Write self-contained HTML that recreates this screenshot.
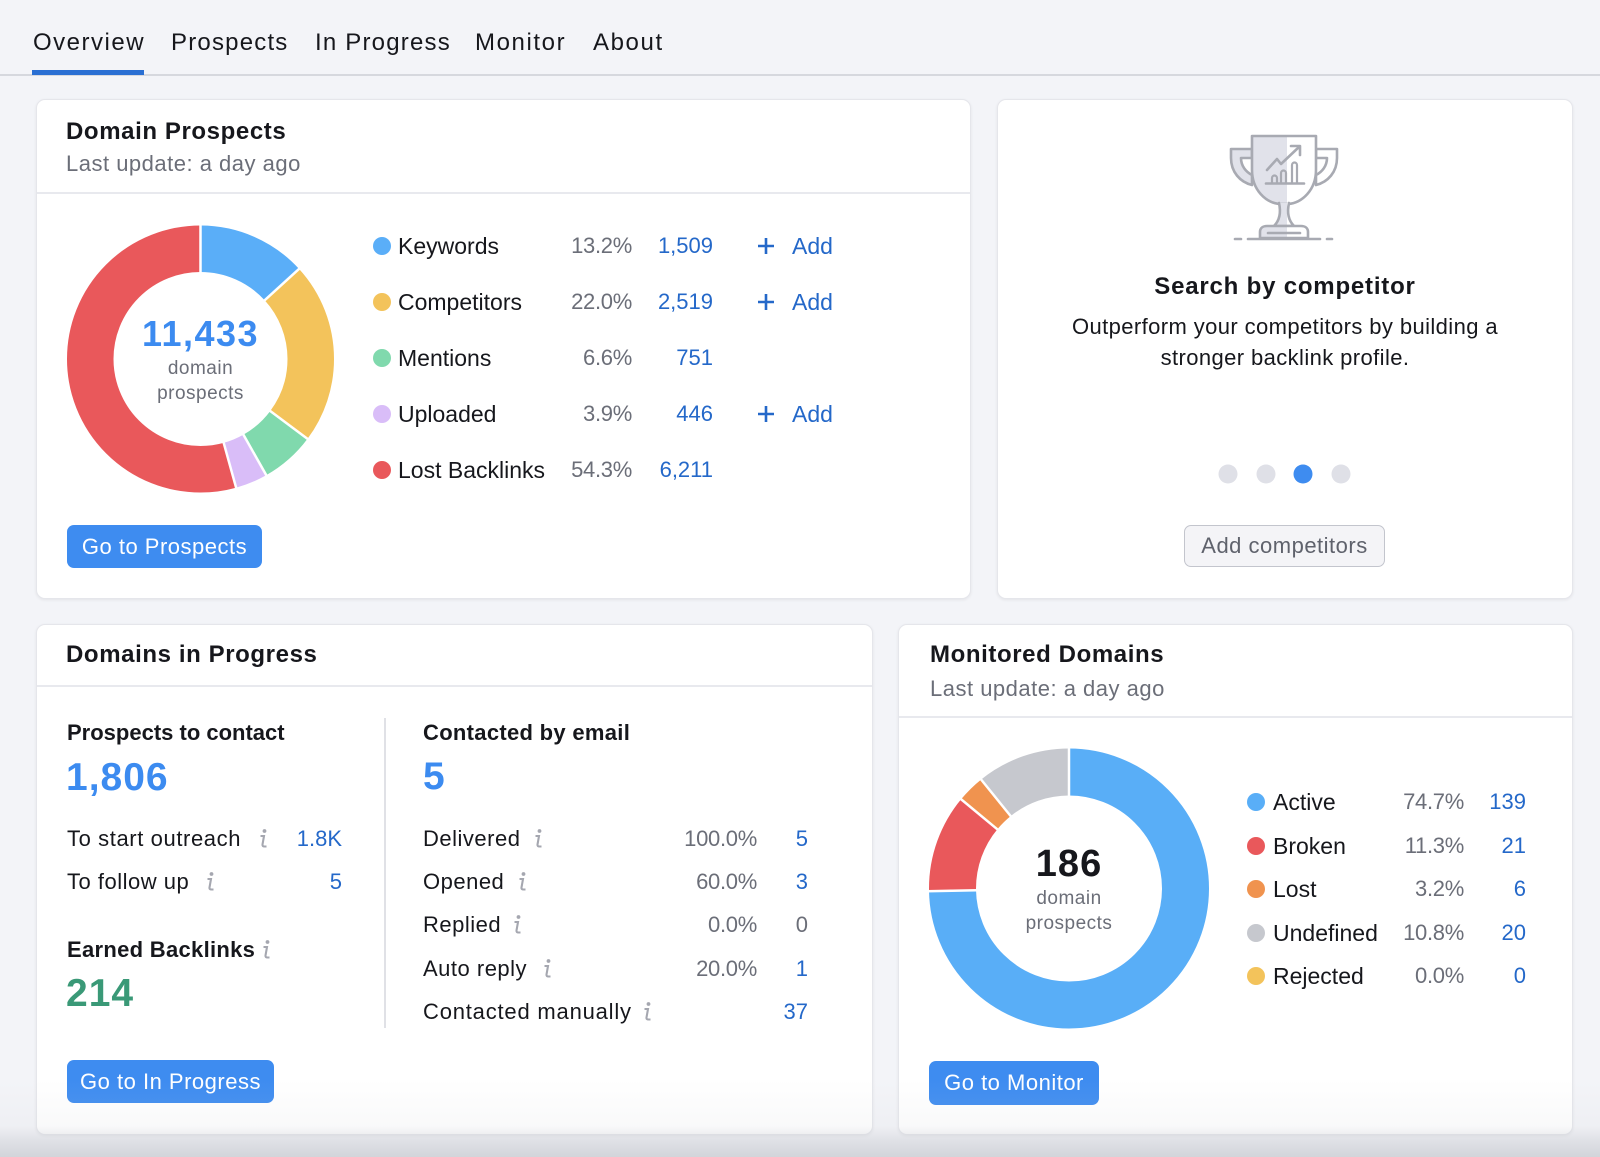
<!DOCTYPE html>
<html>
<head>
<meta charset="utf-8">
<style>
  html,body{margin:0;padding:0;}
  body{width:1600px;height:1157px;overflow:hidden;background:#f3f4f8;position:relative;font-family:"Liberation Sans",Arial,sans-serif;color:#16171c;}
  .t{position:absolute;line-height:1;white-space:nowrap;z-index:3;}
  .card{position:absolute;background:#fff;border:1px solid #e5e6eb;border-radius:9px;box-shadow:0 1px 3px rgba(0,0,0,0.07);box-sizing:border-box;z-index:1;}
  .sep{position:absolute;height:2px;background:#e8e9ee;z-index:2;}
  .title{font-size:24px;font-weight:bold;letter-spacing:0.6px;}
  .sub{font-size:22px;color:#6b6e78;letter-spacing:0.5px;}
  .lab{font-size:23px;color:#16171c;}
  .pct{font-size:22px;color:#6b6e78;letter-spacing:-0.3px;text-align:right;}
  .num{font-size:22px;color:#2468c9;text-align:right;}
  .row{font-size:22px;color:#16171c;letter-spacing:0.5px;}
  .big{font-size:39px;font-weight:bold;letter-spacing:1px;}
  .btn{position:absolute;background:#3e8cf0;color:#fff;border-radius:7px;font-size:22px;letter-spacing:0.5px;display:flex;align-items:center;justify-content:center;z-index:3;box-sizing:border-box;}
  .dot{position:absolute;width:18px;height:18px;border-radius:50%;z-index:3;}
  .tab{font-size:24px;letter-spacing:1.2px;color:#16171c;}
</style>
</head>
<body>

<!-- Tabs -->
<div class="t tab" style="left:33px;top:31px;letter-spacing:1.5px;">Overview</div>
<div class="t tab" style="left:171px;top:31px;">Prospects</div>
<div class="t tab" style="left:315px;top:31px;">In Progress</div>
<div class="t tab" style="left:475px;top:31px;letter-spacing:1.6px;">Monitor</div>
<div class="t tab" style="left:593px;top:31px;letter-spacing:1.6px;">About</div>
<div style="position:absolute;left:0;top:74px;width:1600px;height:2px;background:#d6d8de;"></div>
<div style="position:absolute;left:32px;top:70px;width:112px;height:5px;background:#2a6fd3;"></div>

<!-- Cards -->
<div class="card" style="left:36px;top:99px;width:935px;height:500px;"></div>
<div class="card" style="left:997px;top:99px;width:576px;height:500px;"></div>
<div class="card" style="left:36px;top:624px;width:837px;height:511px;"></div>
<div class="card" style="left:898px;top:624px;width:675px;height:511px;"></div>

<!-- separators -->
<div class="sep" style="left:37px;top:192px;width:933px;"></div>
<div class="sep" style="left:37px;top:685px;width:835px;"></div>
<div class="sep" style="left:899px;top:716px;width:673px;"></div>
<div style="position:absolute;left:384px;top:718px;width:2px;height:310px;background:#e0e1e6;z-index:2;"></div>

<!-- Graphics overlay -->
<svg width="1600" height="1157" style="position:absolute;left:0;top:0;z-index:2;" xmlns="http://www.w3.org/2000/svg">
  <defs>
    <linearGradient id="tg" gradientUnits="userSpaceOnUse" x1="1231" y1="0" x2="1337" y2="0">
      <stop offset="0" stop-color="#e1e2ea"/>
      <stop offset="0.53" stop-color="#e1e2ea"/>
      <stop offset="0.53" stop-color="#ffffff"/>
      <stop offset="1" stop-color="#ffffff"/>
    </linearGradient>
  </defs>
  <!-- Donut 1 -->
  <g transform="rotate(-90 200.5 359)" fill="none" stroke-width="46.5">
    <circle cx="200.5" cy="359" r="110.25" stroke="#5aaef8" stroke-dasharray="91.44 692.72" stroke-dashoffset="0"/>
    <circle cx="200.5" cy="359" r="110.25" stroke="#f3c35b" stroke-dasharray="152.40 692.72" stroke-dashoffset="-91.44"/>
    <circle cx="200.5" cy="359" r="110.25" stroke="#80d9ad" stroke-dasharray="45.72 692.72" stroke-dashoffset="-243.84"/>
    <circle cx="200.5" cy="359" r="110.25" stroke="#d9bdf8" stroke-dasharray="27.02 692.72" stroke-dashoffset="-289.56"/>
    <circle cx="200.5" cy="359" r="110.25" stroke="#e9585b" stroke-dasharray="376.15 692.72" stroke-dashoffset="-316.58"/>
  </g>
  <g stroke="#ffffff" stroke-width="2.5">
    <line x1="200.5" y1="273" x2="200.5" y2="224"/>
    <line x1="263.95" y1="300.95" x2="300.1" y2="267.9"/>
    <line x1="269.4" y1="410.4" x2="308.7" y2="439.8"/>
    <line x1="242.9" y1="433.8" x2="267.0" y2="476.5"/>
    <line x1="223.45" y1="441.9" x2="236.5" y2="489.1"/>
  </g>

  <!-- Donut 2 -->
  <g transform="rotate(-90 1069 888.5)" fill="none" stroke-width="47">
    <circle cx="1069" cy="888.5" r="116.5" stroke="#59aef7" stroke-dasharray="546.80 731.99" stroke-dashoffset="0"/>
    <circle cx="1069" cy="888.5" r="116.5" stroke="#e9585b" stroke-dasharray="82.71 731.99" stroke-dashoffset="-546.80"/>
    <circle cx="1069" cy="888.5" r="116.5" stroke="#f0934f" stroke-dasharray="23.42 731.99" stroke-dashoffset="-629.51"/>
    <circle cx="1069" cy="888.5" r="116.5" stroke="#c6c8ce" stroke-dasharray="79.05 731.99" stroke-dashoffset="-652.93"/>
  </g>
  <g stroke="#ffffff" stroke-width="2.5">
    <line x1="1069" y1="796.5" x2="1069" y2="746.5"/>
    <line x1="977.0" y1="890.2" x2="927.0" y2="891.2"/>
    <line x1="998.1" y1="829.9" x2="959.6" y2="798.0"/>
    <line x1="1011.3" y1="816.9" x2="979.9" y2="778.0"/>
  </g>

  <!-- Trophy -->
  <g stroke="#a8aab2" stroke-width="2.6" stroke-linejoin="round" stroke-linecap="round">
    <path d="M1252,149 H1231 V158 C1231,172 1240,182 1252,185 V175 C1246,172 1241,166 1241,158 H1252 Z" fill="#e1e2ea"/>
    <path d="M1316,149 H1337 V158 C1337,172 1328,182 1316,185 V175 C1322,172 1327,166 1327,158 H1316 Z" fill="#ffffff"/>
    <path d="M1252,136 H1316 V170 C1316,190 1302,203 1288,204 L1280,204 C1266,203 1252,190 1252,170 Z" fill="url(#tg)"/>
    <path d="M1279,203 C1281,212 1280,220 1274,226 H1294 C1288,220 1287,212 1289,203" fill="url(#tg)"/>
    <path d="M1260,238 V232 C1260,228 1263,226 1267,226 H1301 C1305,226 1308,228 1308,232 V238 Z" fill="url(#tg)"/>
    <path d="M1268,233 H1300" fill="none"/>
    <path d="M1248,239 H1320" fill="none"/>
    <path d="M1235,239 H1241" fill="none"/>
    <path d="M1327,239 H1332" fill="none"/>
    <path d="M1266,183.5 H1304" fill="none"/>
    <path d="M1272,183 V178 a2.5,2.5 0 0 1 5,0 V183" fill="none" stroke-width="2.2"/>
    <path d="M1281,183 V173 a2.5,2.5 0 0 1 5,0 V183" fill="none" stroke-width="2.2"/>
    <path d="M1292,183 V165 a2.5,2.5 0 0 1 5,0 V183" fill="none" stroke-width="2.2"/>
    <path d="M1267,170 L1277,159 L1281,164 L1299,147" fill="none"/>
    <path d="M1291,146 H1300 V155" fill="none"/>
  </g>

  <!-- carousel dots -->
  <circle cx="1228" cy="474" r="9.5" fill="#dfe0e7"/>
  <circle cx="1266" cy="474" r="9.5" fill="#dfe0e7"/>
  <circle cx="1303" cy="474" r="9.5" fill="#3e8cf0"/>
  <circle cx="1341" cy="474" r="9.5" fill="#dfe0e7"/>

  <!-- info icons -->
  <g fill="#a5a7b0" stroke="#a5a7b0">
    <g transform="translate(263,847)"><circle cx="1.5" cy="-16" r="1.9" stroke="none"/><path d="M-2.5,-11 H1 L-0.5,-2.5 Q-0.8,-0.5 1.5,-0.5 H3.5" fill="none" stroke-width="2.1"/></g>
    <g transform="translate(210,890)"><circle cx="1.5" cy="-16" r="1.9" stroke="none"/><path d="M-2.5,-11 H1 L-0.5,-2.5 Q-0.8,-0.5 1.5,-0.5 H3.5" fill="none" stroke-width="2.1"/></g>
    <g transform="translate(266,958)"><circle cx="1.5" cy="-16" r="1.9" stroke="none"/><path d="M-2.5,-11 H1 L-0.5,-2.5 Q-0.8,-0.5 1.5,-0.5 H3.5" fill="none" stroke-width="2.1"/></g>
    <g transform="translate(538,847)"><circle cx="1.5" cy="-16" r="1.9" stroke="none"/><path d="M-2.5,-11 H1 L-0.5,-2.5 Q-0.8,-0.5 1.5,-0.5 H3.5" fill="none" stroke-width="2.1"/></g>
    <g transform="translate(522,890)"><circle cx="1.5" cy="-16" r="1.9" stroke="none"/><path d="M-2.5,-11 H1 L-0.5,-2.5 Q-0.8,-0.5 1.5,-0.5 H3.5" fill="none" stroke-width="2.1"/></g>
    <g transform="translate(517,933)"><circle cx="1.5" cy="-16" r="1.9" stroke="none"/><path d="M-2.5,-11 H1 L-0.5,-2.5 Q-0.8,-0.5 1.5,-0.5 H3.5" fill="none" stroke-width="2.1"/></g>
    <g transform="translate(547,977)"><circle cx="1.5" cy="-16" r="1.9" stroke="none"/><path d="M-2.5,-11 H1 L-0.5,-2.5 Q-0.8,-0.5 1.5,-0.5 H3.5" fill="none" stroke-width="2.1"/></g>
    <g transform="translate(647,1020)"><circle cx="1.5" cy="-16" r="1.9" stroke="none"/><path d="M-2.5,-11 H1 L-0.5,-2.5 Q-0.8,-0.5 1.5,-0.5 H3.5" fill="none" stroke-width="2.1"/></g>
  </g>

  <!-- plus icons -->
  <g stroke="#2468c9" stroke-width="2.6">
    <path d="M758,246 H774 M766,238 V254"/>
    <path d="M758,302 H774 M766,294 V310"/>
    <path d="M758,414 H774 M766,406 V422"/>
  </g>
</svg>

<!-- Domain Prospects -->
<div class="t title" style="left:66px;top:120px;">Domain Prospects</div>
<div class="t sub" style="left:66px;top:153px;">Last update: a day ago</div>

<div class="t" style="left:100px;width:201px;text-align:center;top:316px;font-size:36px;font-weight:bold;color:#3c8bf0;letter-spacing:1.5px;">11,433</div>
<div class="t" style="left:100px;width:201px;text-align:center;top:359px;font-size:19px;color:#6b6e78;letter-spacing:0.5px;">domain</div>
<div class="t" style="left:100px;width:201px;text-align:center;top:384px;font-size:19px;color:#6b6e78;letter-spacing:0.5px;">prospects</div>

<div class="dot" style="left:373px;top:237px;background:#5aaef8;"></div>
<div class="dot" style="left:373px;top:293px;background:#f3c35b;"></div>
<div class="dot" style="left:373px;top:349px;background:#80d9ad;"></div>
<div class="dot" style="left:373px;top:405px;background:#d9bdf8;"></div>
<div class="dot" style="left:373px;top:461px;background:#e9585b;"></div>

<div class="t lab" style="left:398px;top:234.5px;">Keywords</div>
<div class="t lab" style="left:398px;top:290.5px;">Competitors</div>
<div class="t lab" style="left:398px;top:346.5px;">Mentions</div>
<div class="t lab" style="left:398px;top:402.5px;">Uploaded</div>
<div class="t lab" style="left:398px;top:458.5px;">Lost Backlinks</div>

<div class="t pct" style="right:968px;top:235.4px;">13.2%</div>
<div class="t pct" style="right:968px;top:291.4px;">22.0%</div>
<div class="t pct" style="right:968px;top:347.4px;">6.6%</div>
<div class="t pct" style="right:968px;top:403.4px;">3.9%</div>
<div class="t pct" style="right:968px;top:459.4px;">54.3%</div>

<div class="t num" style="right:887px;top:235.4px;">1,509</div>
<div class="t num" style="right:887px;top:291.4px;">2,519</div>
<div class="t num" style="right:887px;top:347.4px;">751</div>
<div class="t num" style="right:887px;top:403.4px;">446</div>
<div class="t num" style="right:887px;top:459.4px;">6,211</div>

<div class="t lab" style="left:792px;top:234.5px;color:#2468c9;">Add</div>
<div class="t lab" style="left:792px;top:290.5px;color:#2468c9;">Add</div>
<div class="t lab" style="left:792px;top:402.5px;color:#2468c9;">Add</div>

<div class="btn" style="left:67px;top:525px;width:195px;height:43px;">Go to Prospects</div>

<!-- Search by competitor -->
<div class="t title" style="left:1085px;width:400px;text-align:center;top:275px;letter-spacing:0.8px;">Search by competitor</div>
<div class="t" style="left:1035px;width:500px;text-align:center;top:316.4px;font-size:22px;letter-spacing:0.4px;">Outperform your competitors by building a</div>
<div class="t" style="left:1035px;width:500px;text-align:center;top:347.4px;font-size:22px;letter-spacing:0.4px;">stronger backlink profile.</div>
<div class="btn" style="left:1184px;top:525px;width:201px;height:42px;background:#f4f4f7;border:1.5px solid #c3c5cd;color:#5f626c;">Add competitors</div>

<!-- Domains in Progress -->
<div class="t title" style="left:66px;top:643px;">Domains in Progress</div>

<div class="t" style="left:67px;top:722.4px;font-size:22px;font-weight:bold;">Prospects to contact</div>
<div class="t big" style="left:66px;top:758px;color:#3c8bf0;">1,806</div>
<div class="t row" style="left:67px;top:828.4px;letter-spacing:0.6px;">To start outreach</div>
<div class="t num" style="right:1258px;top:828.4px;">1.8K</div>
<div class="t row" style="left:67px;top:871.4px;">To follow up</div>
<div class="t num" style="right:1258px;top:871.4px;">5</div>
<div class="t" style="left:67px;top:939.4px;font-size:22px;font-weight:bold;letter-spacing:0.3px;">Earned Backlinks</div>
<div class="t big" style="left:66px;top:974px;color:#3a9977;">214</div>

<div class="t" style="left:423px;top:722.4px;font-size:22px;font-weight:bold;letter-spacing:0.3px;">Contacted by email</div>
<div class="t big" style="left:423px;top:757px;color:#3c8bf0;">5</div>

<div class="t row" style="left:423px;top:828.4px;">Delivered</div>
<div class="t row" style="left:423px;top:871.4px;">Opened</div>
<div class="t row" style="left:423px;top:914.4px;">Replied</div>
<div class="t row" style="left:423px;top:958.4px;">Auto reply</div>
<div class="t row" style="left:423px;top:1001.4px;letter-spacing:0.8px;">Contacted manually</div>

<div class="t pct" style="right:843px;top:828.4px;">100.0%</div>
<div class="t pct" style="right:843px;top:871.4px;">60.0%</div>
<div class="t pct" style="right:843px;top:914.4px;">0.0%</div>
<div class="t pct" style="right:843px;top:958.4px;">20.0%</div>

<div class="t num" style="right:792px;top:828.4px;">5</div>
<div class="t num" style="right:792px;top:871.4px;">3</div>
<div class="t num" style="right:792px;top:914.4px;color:#6b6e78;">0</div>
<div class="t num" style="right:792px;top:958.4px;">1</div>
<div class="t num" style="right:792px;top:1001.4px;">37</div>

<div class="btn" style="left:67px;top:1060px;width:207px;height:43px;">Go to In Progress</div>

<!-- Monitored Domains -->
<div class="t title" style="left:930px;top:643px;">Monitored Domains</div>
<div class="t sub" style="left:930px;top:678.4px;">Last update: a day ago</div>

<div class="t" style="left:969px;width:200px;text-align:center;top:845px;font-size:38px;font-weight:bold;color:#16171c;letter-spacing:1px;">186</div>
<div class="t" style="left:969px;width:200px;text-align:center;top:889px;font-size:19px;color:#6b6e78;letter-spacing:0.5px;">domain</div>
<div class="t" style="left:969px;width:200px;text-align:center;top:914px;font-size:19px;color:#6b6e78;letter-spacing:0.5px;">prospects</div>

<div class="dot" style="left:1247px;top:793px;background:#59aef7;"></div>
<div class="dot" style="left:1247px;top:837px;background:#e9585b;"></div>
<div class="dot" style="left:1247px;top:880px;background:#f0934f;"></div>
<div class="dot" style="left:1247px;top:924px;background:#c6c8ce;"></div>
<div class="dot" style="left:1247px;top:967px;background:#f3c35b;"></div>

<div class="t lab" style="left:1273px;top:790.5px;">Active</div>
<div class="t lab" style="left:1273px;top:834.5px;">Broken</div>
<div class="t lab" style="left:1273px;top:877.5px;">Lost</div>
<div class="t lab" style="left:1273px;top:921.5px;">Undefined</div>
<div class="t lab" style="left:1273px;top:964.5px;">Rejected</div>

<div class="t pct" style="right:136px;top:791.4px;">74.7%</div>
<div class="t pct" style="right:136px;top:835.4px;">11.3%</div>
<div class="t pct" style="right:136px;top:878.4px;">3.2%</div>
<div class="t pct" style="right:136px;top:922.4px;">10.8%</div>
<div class="t pct" style="right:136px;top:965.4px;">0.0%</div>

<div class="t num" style="right:74px;top:791.4px;">139</div>
<div class="t num" style="right:74px;top:835.4px;">21</div>
<div class="t num" style="right:74px;top:878.4px;">6</div>
<div class="t num" style="right:74px;top:922.4px;">20</div>
<div class="t num" style="right:74px;top:965.4px;">0</div>

<div class="btn" style="left:929px;top:1061px;width:170px;height:44px;">Go to Monitor</div>

<!-- bottom fade -->
<div style="position:absolute;left:0;top:1080px;width:1600px;height:77px;z-index:5;pointer-events:none;background:linear-gradient(to bottom, rgba(205,207,213,0) 0%, rgba(205,207,213,0.12) 60%, rgba(205,207,213,0.5) 78%, rgba(205,207,213,0.85) 100%);"></div>

</body>
</html>
